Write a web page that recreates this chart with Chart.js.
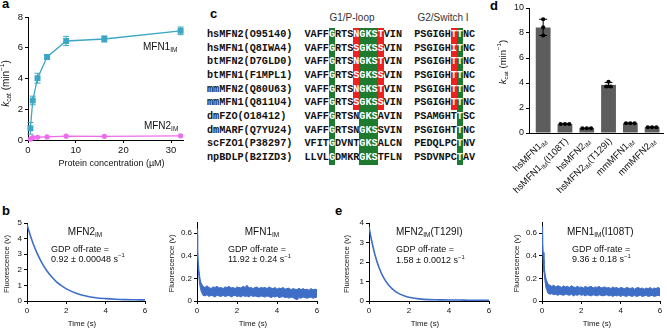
<!DOCTYPE html>
<html>
<head>
<meta charset="utf-8">
<script src="https://cdn.jsdelivr.net/npm/chart.js@4.4.1/dist/chart.umd.min.js"></script>
<style>
  body { margin: 0; background: #fff; }
  #page { position: relative; width: 667px; height: 328px; overflow: hidden; font-family: 'Liberation Sans', Arial, sans-serif; }
  canvas { position: absolute; }
  .panel { position: absolute; font-weight: bold; font-size: 13px; line-height: 14px; }
  .hdr { position: absolute; font-size: 10px; color: #333; transform: translate(-50%, -50%); white-space: nowrap; }
  #seq { position: absolute; left: 207px; top: 28px; font-family: 'Liberation Mono', 'Courier New', monospace; font-weight: bold; font-size: 10.2px; color: #111; }
  .row { height: 13.67px; line-height: 13.67px; white-space: nowrap; }
  .row span { display: inline-block; width: 6.1px; height: 13.67px; text-align: center; vertical-align: top; }
  .g { background: #1d7a2e; color: #fff; }
  .r { background: #ef2020; color: #fff; }
</style>
</head>
<body>
<div id="page">
  <div class="panel" style="left:2px;top:-3px">a</div>
  <div class="panel" style="left:210px;top:7px">c</div>
  <div class="panel" style="left:490px;top:-1px">d</div>
  <div class="panel" style="left:2px;top:204px">b</div>
  <div class="panel" style="left:335px;top:204px">e</div>

  <div class="hdr" style="left:352px;top:17px">G1/P-loop</div>
  <div class="hdr" style="left:443px;top:17px">G2/Switch I</div>
  <div id="seq"></div>

  <canvas id="ca" width="200" height="172" style="left:0;top:0"></canvas>
  <canvas id="cd" width="217" height="200" style="left:450px;top:0"></canvas>
  <canvas id="cb1" width="160" height="158" style="left:0;top:170px"></canvas>
  <canvas id="cb2" width="165" height="158" style="left:165px;top:170px"></canvas>
  <canvas id="ce1" width="170" height="158" style="left:330px;top:170px"></canvas>
  <canvas id="ce2" width="167" height="158" style="left:500px;top:170px"></canvas>
</div>
<script>
// ---- panel a: kcat vs protein concentration
const concUM = [0.5, 1, 2, 4, 8, 16, 32];
const mfn1Kcat = [0.76, 2.57, 4.02, 5.4, 6.44, 6.57, 7.1];
const mfn1Err = [0.38, 0.28, 0.32, 0.1, 0.3, 0.2, 0.25];
const mfn2Kcat = [0.06, 0.15, 0.18, 0.2, 0.25, 0.24, 0.27];
const mfn2Err = [0.04, 0.04, 0.04, 0.03, 0.04, 0.03, 0.03];
const aTicksX = [0, 10, 20, 30];
const aTicksY = [0, 2, 4, 6, 8];

// ---- panel c: alignment
const seqNames = ['hsMFN2(O95140)', 'hsMFN1(Q8IWA4)', 'btMFN2(D7GLD0)', 'btMFN1(F1MPL1)', 'mmMFN2(Q80U63)',
  'mmMFN1(Q811U4)', 'dmFZO(O18412)', 'dmMARF(Q7YU24)', 'scFZO1(P38297)', 'npBDLP(B2IZD3)'];
const g1Seqs = ['VAFFGRTSNGKSTVIN', 'VAFFGRTSSGKSSVIN', 'VAFFGRTSNGKSTVIN', 'VAFFGRTSSGKSSVIN', 'VAFFGRTSNGKSTVIN',
  'VAFFGRTSSGKSSVIN', 'VAFFGRTSNGKSAVIN', 'VAFFGRTSNGKSSVIN', 'VFITGDVNTGKSALCN', 'LLVLGDMKRGKSTFLN'];
const g2Seqs = ['PSGIGHTTNC', 'PSGIGHITNC', 'PSGIGHTTNC', 'PSGIGHTTNC', 'PSGIGHTTNC',
  'PSGIGHTTNC', 'PSAMGHTTSC', 'PSGIGHTTNC', 'PEDQLPCTNV', 'PSDVNPCTAV'];
const g1Green = [4, 9, 10, 11];
const g1Red = [8, 12];
const g2Green = [7];
const g2Red = [6];
const redRows = 6;

// ---- panel d: kcat bars
const dCats = [
  [['hsMFN1', ''], ['IM', 'sub']],
  [['hsMFN1', ''], ['IM', 'sub'], ['(I108T)', '']],
  [['hsMFN2', ''], ['IM', 'sub']],
  [['hsMFN2', ''], ['IM', 'sub'], ['(T129I)', '']],
  [['mmMFN1', ''], ['IM', 'sub']],
  [['mmMFN2', ''], ['IM', 'sub']]
];
const dKcat = [8.45, 0.72, 0.38, 3.85, 0.78, 0.46];
const dErr = [0.65, 0.02, 0.01, 0.2, 0.02, 0.01];
const dReps = [[9.1, 8.45, 7.8], [0.72, 0.72, 0.72], [0.38, 0.38, 0.38], [4.1, 3.72, 3.72], [0.78, 0.78, 0.78], [0.46, 0.46, 0.46]];
const dTicksY = [0, 2, 4, 6, 8, 10];

// ---- panels b, e: GDP off-rate traces
const smoothT = [0, 0.1, 0.2, 0.3, 0.5, 0.75, 1, 1.25, 1.5, 1.75, 2, 2.5, 3, 3.5, 4, 4.5, 5, 5.5, 6];
const bMfn2 = [4.9, 4.47, 4.08, 3.72, 3.1, 2.46, 1.95, 1.55, 1.23, 0.98, 0.78, 0.5, 0.32, 0.21, 0.15, 0.11, 0.09, 0.08, 0.07];
const eMfn2 = [3.8, 3.25, 2.78, 2.36, 1.72, 1.16, 0.8, 0.55, 0.38, 0.27, 0.19, 0.11, 0.07, 0.06, 0.05, 0.05, 0.04, 0.04, 0.04];
const noisyT = [0, 0.03, 0.06, 0.1, 0.15, 0.2,
  0.3, 0.4, 0.5, 0.6, 0.7, 0.8, 0.9, 1.0, 1.1, 1.2, 1.3, 1.4, 1.5, 1.6, 1.7, 1.8, 1.9, 2.0, 2.1, 2.2,
  2.3, 2.4, 2.5, 2.6, 2.7, 2.8, 2.9, 3.0, 3.1, 3.2, 3.3, 3.4, 3.5, 3.6, 3.7, 3.8, 3.9, 4.0, 4.1, 4.2,
  4.3, 4.4, 4.5, 4.6, 4.7, 4.8, 4.9, 5.0, 5.1, 5.2, 5.3, 5.4, 5.5, 5.6, 5.7, 5.8, 5.9, 6.0];
const bMfn1Hi = [0.64, 0.47, 0.36, 0.27, 0.20, 0.16,
  0.13, 0.12, 0.135, 0.12, 0.11, 0.125, 0.12, 0.13, 0.115, 0.12,
  0.11, 0.125, 0.12, 0.13, 0.115, 0.12, 0.11, 0.125, 0.12, 0.115,
  0.13, 0.12, 0.14, 0.115, 0.12, 0.11, 0.12, 0.125, 0.11, 0.12,
  0.115, 0.12, 0.11, 0.125, 0.115, 0.11, 0.12, 0.105, 0.115, 0.11,
  0.12, 0.105, 0.11, 0.115, 0.1, 0.11, 0.105, 0.1, 0.115, 0.1,
  0.11, 0.1, 0.105, 0.095, 0.11, 0.1, 0.105, 0.1];
const bMfn1Lo = [0.58, 0.40, 0.29, 0.20, 0.13, 0.09,
  0.05, 0.045, 0.055, 0.04, 0.05, 0.045, 0.035, 0.05, 0.045, 0.04,
  0.05, 0.04, 0.045, 0.05, 0.035, 0.045, 0.05, 0.04, 0.045, 0.035,
  0.05, 0.04, 0.045, 0.035, 0.05, 0.04, 0.045, 0.04, 0.035, 0.045,
  0.04, 0.035, 0.045, 0.04, 0.03, 0.04, 0.035, 0.045, 0.03, 0.035,
  0.04, 0.03, 0.035, 0.025, 0.035, 0.03, 0.02, 0.01, 0.03, 0.025,
  0.035, 0.03, 0.025, 0.03, 0.035, 0.025, 0.03, 0.035];
const eMfn1Hi = [0.66, 0.53, 0.43, 0.33, 0.25, 0.20,
  0.15, 0.14, 0.13, 0.14, 0.125, 0.135, 0.13, 0.12, 0.135, 0.125,
  0.13, 0.12, 0.135, 0.125, 0.12, 0.13, 0.12, 0.125, 0.115, 0.13,
  0.12, 0.125, 0.13, 0.115, 0.125, 0.12, 0.13, 0.115, 0.12, 0.125,
  0.115, 0.12, 0.11, 0.125, 0.115, 0.12, 0.11, 0.12, 0.115, 0.11,
  0.12, 0.115, 0.11, 0.12, 0.105, 0.115, 0.12, 0.11, 0.115, 0.105,
  0.115, 0.11, 0.12, 0.105, 0.115, 0.11, 0.12, 0.11];
const eMfn1Lo = [0.58, 0.46, 0.36, 0.26, 0.18, 0.12,
  0.07, 0.06, 0.065, 0.055, 0.06, 0.05, 0.06, 0.055, 0.05, 0.06,
  0.055, 0.05, 0.06, 0.045, 0.055, 0.05, 0.06, 0.05, 0.055, 0.045,
  0.055, 0.05, 0.045, 0.055, 0.05, 0.045, 0.055, 0.05, 0.045, 0.05,
  0.055, 0.045, 0.05, 0.04, 0.05, 0.045, 0.05, 0.04, 0.05, 0.045,
  0.04, 0.05, 0.045, 0.04, 0.05, 0.04, 0.045, 0.05, 0.04, 0.045,
  0.05, 0.04, 0.045, 0.05, 0.04, 0.045, 0.05, 0.045];
const traceTicksX = [0, 2, 4, 6];
const bigTicksY5 = [0, 1, 2, 3, 4, 5];
const bigTicksY4 = [0, 1, 2, 3, 4];
const smallTicksY = [0, 0.2, 0.4, 0.6];

// text bits with sub/superscripts
const kcatTitle = [['k', 'i'], ['cat', 'sub'], [' (min', ''], ['\u22121', 'sup'], [')', '']];
const mfn1Label = [['MFN1', ''], ['IM', 'sub']];
const mfn2Label = [['MFN2', ''], ['IM', 'sub']];

const FONT = "'Liberation Sans', Arial, sans-serif";
const BLUE = '#3e6ec6';
const TEAL = '#3ca7c2';
const PINK = '#ee6cee';

// build the alignment as text
const seqBox = document.getElementById('seq');
seqNames.forEach((name, r) => {
  const row = document.createElement('div');
  row.className = 'row';
  const line = name.padEnd(14) + '  ' + g1Seqs[r] + '  ' + g2Seqs[r];
  for (let i = 0; i < line.length; i++) {
    const sp = document.createElement('span');
    sp.textContent = line[i] === ' ' ? '\u00a0' : line[i];
    const c1 = i - 16, c2 = i - 34;
    if ((c1 >= 0 && g1Green.includes(c1)) || (c2 >= 0 && g2Green.includes(c2))) sp.className = 'g';
    if (r < redRows && ((c1 >= 0 && g1Red.includes(c1)) || (c2 >= 0 && g2Red.includes(c2)))) sp.className = 'r';
    row.appendChild(sp);
  }
  seqBox.appendChild(row);
});

// draws text made of normal / italic / sub / sup pieces
function rich(ctx, parts, x, y, size, align, rot) {
  ctx.save();
  ctx.translate(x, y);
  if (rot) ctx.rotate(rot);
  ctx.textBaseline = 'middle';
  ctx.textAlign = 'left';
  ctx.fillStyle = '#111';
  const fonts = parts.map(p => {
    const s = (p[1] === 'sub' || p[1] === 'sup') ? size * 0.65 : size;
    return (p[1] === 'i' ? 'italic ' : '') + s + 'px ' + FONT;
  });
  let w = 0;
  parts.forEach((p, i) => { ctx.font = fonts[i]; w += ctx.measureText(p[0]).width; });
  let cx = align === 'center' ? -w / 2 : (align === 'right' ? -w : 0);
  parts.forEach((p, i) => {
    ctx.font = fonts[i];
    const dy = p[1] === 'sub' ? size * 0.3 : (p[1] === 'sup' ? -size * 0.35 : 0);
    ctx.fillText(p[0], cx, dy);
    cx += ctx.measureText(p[0]).width;
  });
  ctx.restore();
}

function textLayer(fn) {
  return { id: 'textLayer', afterDraw: chart => fn(chart.ctx, chart.chartArea, chart.scales) };
}

// error bars for any dataset that carries an err array
const errBars = {
  id: 'errBars',
  afterDatasetDraw(chart, args) {
    const ds = chart.data.datasets[args.index];
    if (!ds.err) return;
    const ctx = chart.ctx, xs = chart.scales.x, ys = chart.scales.y;
    ctx.save();
    ctx.strokeStyle = ds.errColor || ds.borderColor;
    ctx.lineWidth = 1;
    ds.data.forEach((p, i) => {
      const x = xs.getPixelForValue(p.x);
      const y1 = ys.getPixelForValue(p.y - ds.err[i]);
      const y2 = ys.getPixelForValue(p.y + ds.err[i]);
      const c = ds.capW;
      ctx.beginPath();
      ctx.moveTo(x, y1); ctx.lineTo(x, y2);
      ctx.moveTo(x - c, y1); ctx.lineTo(x + c, y1);
      ctx.moveTo(x - c, y2); ctx.lineTo(x + c, y2);
      ctx.stroke();
    });
    ctx.restore();
  }
};

function axis(ticks, min, max, size, fit) {
  return {
    type: 'linear', min: min, max: max, offset: false,
    afterBuildTicks: s => { s.ticks = ticks.map(v => ({ value: v })); },
    afterFit: fit,
    grid: { drawOnChartArea: false, tickLength: 3, tickColor: '#000', offset: false },
    border: { color: '#000' },
    ticks: { color: '#111', padding: 2, font: { family: FONT, size: size }, callback: v => String(v) }
  };
}

function baseOpts(scales, pad) {
  return {
    responsive: false, animation: false, devicePixelRatio: 1,
    layout: { padding: pad },
    plugins: { legend: { display: false }, tooltip: { enabled: false } },
    scales: scales
  };
}

const pts = (xs, ys) => xs.map((x, i) => ({ x: x, y: ys[i] }));

// panel a
new Chart(document.getElementById('ca'), {
  type: 'line',
  data: {
    datasets: [
      { data: pts(concUM, mfn1Kcat), borderColor: TEAL, backgroundColor: TEAL, borderWidth: 1.3,
        pointStyle: 'rect', pointRadius: 4.2, pointBorderWidth: 0, clip: false, err: mfn1Err, capW: 3 },
      { data: pts(concUM, mfn2Kcat), borderColor: PINK, backgroundColor: PINK, borderWidth: 1.3,
        pointRadius: 2.6, pointBorderWidth: 0, clip: false, err: mfn2Err, capW: 2 }
    ]
  },
  options: baseOpts({
    x: axis(aTicksX, 0, 32.5, 9.5, s => { s.height = 32; }),
    y: axis(aTicksY, 0, 8, 9.5, s => { s.width = 28; })
  }, { top: 17, right: 17, left: 0, bottom: 0 }),
  plugins: [errBars, textLayer((ctx, area, s) => {
    rich(ctx, mfn1Label, s.x.getPixelForValue(24.1), s.y.getPixelForValue(6.04), 10, 'left');
    rich(ctx, mfn2Label, s.x.getPixelForValue(24.3), s.y.getPixelForValue(0.91), 10, 'left');
    rich(ctx, kcatTitle, 6, (area.top + area.bottom) / 2 + 5, 10, 'center', -Math.PI / 2);
    rich(ctx, [['Protein concentration (\u00b5M)', '']], (area.left + area.right) / 2 + 6, 164, 9, 'center');
  })]
});

// panel d: jitter replicate dots that share a value
const dDots = [];
dReps.forEach((reps, i) => {
  reps.forEach((v, j) => {
    const group = reps.map((w, k) => Math.abs(w - v) < 0.15 ? k : -1).filter(k => k >= 0);
    const pos = group.indexOf(j);
    dDots.push({ x: i + (pos - (group.length - 1) / 2) * 0.2, y: v });
  });
});

new Chart(document.getElementById('cd'), {
  type: 'bar',
  data: {
    datasets: [
      { type: 'scatter', data: dDots, backgroundColor: '#000', borderWidth: 0, pointRadius: 2.1, order: 0, clip: false },
      { type: 'bar', data: dKcat.map((v, i) => ({ x: i, y: v })), backgroundColor: '#5d5d5d',
        categoryPercentage: 1, barPercentage: 0.68, order: 1, err: dErr, errColor: '#000', capW: 4 }
    ]
  },
  options: baseOpts({
    x: {
      type: 'linear', min: -0.65, max: 5.5, offset: false,
      afterBuildTicks: s => { s.ticks = dKcat.map((v, i) => ({ value: i })); },
      afterFit: s => { s.height = 67; },
      grid: { display: false, offset: false },
      border: { color: '#000' },
      ticks: { display: false }
    },
    y: axis(dTicksY, 0, 10, 9, s => { s.width = 79; })
  }, { top: 8, right: 2, left: 0, bottom: 0 }),
  plugins: [errBars, textLayer((ctx, area, s) => {
    dCats.forEach((parts, i) => rich(ctx, parts, s.x.getPixelForValue(i) + 2, area.bottom + 7, 9.5, 'right', -Math.PI / 4));
    rich(ctx, kcatTitle, 53, 62, 9.5, 'center', -Math.PI / 2);
  })]
});

// panels b and e
function tracePanel(id, datasets, yTicks, yMax, yWidth, padTop, padRight, yTitleX, notes) {
  new Chart(document.getElementById(id), {
    type: 'line',
    data: { datasets: datasets },
    options: baseOpts({
      x: axis(traceTicksX, 0, 6, 8, s => { s.height = 27; }),
      y: axis(yTicks, 0, yMax, 8, s => { s.width = yWidth; })
    }, { top: padTop, right: padRight, left: 0, bottom: 0 }),
    plugins: [textLayer((ctx, area, s) => {
      rich(ctx, [['Fluorescence (v)', '']], yTitleX, (area.top + area.bottom) / 2 + 2, 7.8, 'center', -Math.PI / 2);
      rich(ctx, [['Time (s)', '']], (area.left + area.right) / 2 - 4, area.bottom + 23, 7.8, 'center');
      notes.forEach(n => rich(ctx, n.parts, s.x.getPixelForValue(n.x), s.y.getPixelForValue(n.y), n.size, n.align));
    })]
  });
}

function smoothSet(ys) {
  return [{ data: pts(smoothT, ys), borderColor: BLUE, borderWidth: 1.6, pointRadius: 0, cubicInterpolationMode: 'monotone' }];
}
function bandSet(hi, lo) {
  return [
    { data: pts(noisyT, hi), borderColor: BLUE, borderWidth: 1, pointRadius: 0, fill: false },
    { data: pts(noisyT, lo), borderColor: BLUE, borderWidth: 1, pointRadius: 0, fill: '-1', backgroundColor: BLUE }
  ];
}
const offRate = 'GDP off-rate =';
const sm1 = '\u22121';

tracePanel('cb1', smoothSet(bMfn2), bigTicksY5, 5, 27, 53, 15, 7, [
  { parts: mfn2Label, x: 2.95, y: 4.42, size: 10, align: 'center' },
  { parts: [[offRate, '']], x: 1.22, y: 3.33, size: 9, align: 'left' },
  { parts: [['0.92 \u00b1 0.00048 s', ''], [sm1, 'sup']], x: 1.22, y: 2.69, size: 9, align: 'left' }
]);
tracePanel('cb2', bandSet(bMfn1Hi, bMfn1Lo), smallTicksY, 0.7, 32, 52, 13, 7, [
  { parts: mfn1Label, x: 3.25, y: 0.61, size: 10, align: 'center' },
  { parts: [[offRate, '']], x: 1.55, y: 0.46, size: 9, align: 'left' },
  { parts: [['11.92 \u00b1 0.24 s', ''], [sm1, 'sup']], x: 1.55, y: 0.37, size: 9, align: 'left' }
]);
tracePanel('ce1', smoothSet(eMfn2), bigTicksY4, 4, 39, 53, 11, 17, [
  { parts: [['MFN2', ''], ['IM', 'sub'], ['(T129I)', '']], x: 1.35, y: 3.54, size: 10, align: 'left' },
  { parts: [[offRate, '']], x: 1.35, y: 2.62, size: 9, align: 'left' },
  { parts: [['1.58 \u00b1 0.0012 s', ''], [sm1, 'sup']], x: 1.35, y: 2.10, size: 9, align: 'left' }
]);
tracePanel('ce2', bandSet(eMfn1Hi, eMfn1Lo), smallTicksY, 0.7, 42, 52, 7, 17, [
  { parts: [['MFN1', ''], ['IM', 'sub'], ['(I108T)', '']], x: 1.27, y: 0.61, size: 10, align: 'left' },
  { parts: [[offRate, '']], x: 1.53, y: 0.46, size: 9, align: 'left' },
  { parts: [['9.36 \u00b1 0.18 s', ''], [sm1, 'sup']], x: 1.53, y: 0.37, size: 9, align: 'left' }
]);
</script>
</body>
</html>
